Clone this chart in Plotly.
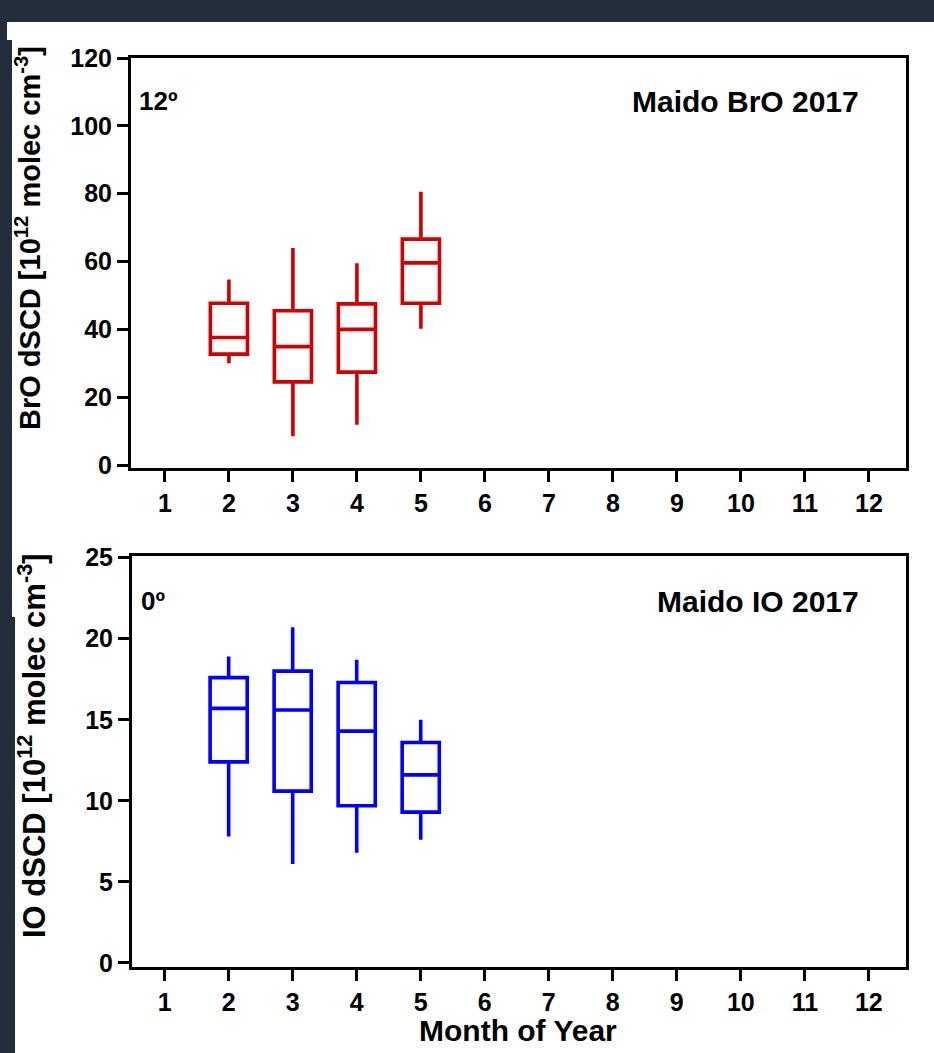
import plotly.graph_objects as go

# Monthly box statistics of slant column densities, Maido 2017
months = [2, 3, 4, 5]

bro_low = [30.0, 8.5, 11.9, 40.2]
bro_q1 = [32.7, 24.5, 27.4, 47.7]
bro_med = [37.6, 34.9, 40.0, 59.6]
bro_q3 = [47.7, 45.5, 47.5, 66.6]
bro_high = [54.7, 64.0, 59.5, 80.6]

io_low = [7.8, 6.1, 6.8, 7.6]
io_q1 = [12.4, 10.6, 9.7, 9.3]
io_med = [15.7, 15.6, 14.3, 11.6]
io_q3 = [17.6, 18.0, 17.3, 13.6]
io_high = [18.9, 20.7, 18.7, 15.0]

month_ticks = list(range(1, 13))
bro_ticks = [0, 20, 40, 60, 80, 100, 120]
io_ticks = [0, 5, 10, 15, 20, 25]

W, H = 934, 1053
FONT = "Liberation Sans"


def fx(px):
    return px / W


def fy(py):
    return 1 - py / H


fig = go.Figure()

fig.add_trace(go.Box(
    x=months, q1=bro_q1, median=bro_med, q3=bro_q3,
    lowerfence=bro_low, upperfence=bro_high,
    xaxis="x", yaxis="y", width=0.58, whiskerwidth=0,
    line=dict(color="#d00000", width=3.6), fillcolor="white",
    boxpoints=False, showlegend=False, hoverinfo="y",
))
fig.add_trace(go.Box(
    x=months, q1=io_q1, median=io_med, q3=io_q3,
    lowerfence=io_low, upperfence=io_high,
    xaxis="x2", yaxis="y2", width=0.58, whiskerwidth=0,
    line=dict(color="#0000ff", width=3.6), fillcolor="white",
    boxpoints=False, showlegend=False, hoverinfo="y",
))

tick_font = dict(family=FONT, size=25, color="black", weight="bold")
axis_common = dict(
    showline=True, linewidth=3, linecolor="black", mirror=True,
    ticks="outside", tickwidth=3, tickcolor="black", ticklen=11,
    showgrid=False, zeroline=False, tickfont=tick_font, automargin=False,
)

fig.update_layout(
    width=W, height=H,
    margin=dict(l=0, r=0, t=0, b=0, autoexpand=False),
    paper_bgcolor="#232d3b",
    plot_bgcolor="white",
    showlegend=False,
    xaxis=dict(domain=[fx(131), fx(906)], range=[0.47, 12.58], anchor="y",
               tickvals=month_ticks, **axis_common),
    yaxis=dict(domain=[fy(468), fy(58)], range=[-0.88, 120], anchor="x",
               tickvals=bro_ticks, **axis_common),
    xaxis2=dict(domain=[fx(132), fx(906)], range=[0.49, 12.58], anchor="y2",
                tickvals=month_ticks, **axis_common),
    yaxis2=dict(domain=[fy(967), fy(556)], range=[-0.25, 25.1], anchor="x2",
                tickvals=io_ticks, **axis_common),
    shapes=[
        dict(type="rect", xref="paper", yref="paper", layer="below",
             x0=fx(7), x1=1, y0=fy(40), y1=fy(22),
             fillcolor="white", line=dict(width=0)),
        dict(type="rect", xref="paper", yref="paper", layer="below",
             x0=fx(12), x1=1, y0=fy(617), y1=fy(40),
             fillcolor="white", line=dict(width=0)),
        dict(type="rect", xref="paper", yref="paper", layer="below",
             x0=fx(15), x1=1, y0=0, y1=fy(617),
             fillcolor="white", line=dict(width=0)),
    ],
)

annotations = [
    dict(text="BrO dSCD [10<sup>12</sup> molec cm<sup>-3</sup>]",
         x=fx(28), y=fy(238), textangle=-90, size=29),
    dict(text="IO dSCD [10<sup>12</sup> molec cm<sup>-3</sup>]",
         x=fx(32), y=fy(746), textangle=-90, size=31),
    dict(text="12º", x=fx(137), y=fy(101), xanchor="left", size=26),
    dict(text="0º", x=fx(139), y=fy(601), xanchor="left", size=26),
    dict(text="Maido BrO 2017", x=fx(861), y=fy(101), xanchor="right", size=30),
    dict(text="Maido IO 2017", x=fx(861), y=fy(601), xanchor="right", size=30),
    dict(text="Month of Year", x=fx(518), y=fy(1030), size=30),
]
for a in annotations:
    a.setdefault("xanchor", "center")
    size = a.pop("size")
    fig.add_annotation(xref="paper", yref="paper", showarrow=False,
                       yanchor="middle",
                       font=dict(family=FONT, size=size, color="black",
                                 weight="bold"),
                       **a)

fig.write_html("out.html")
